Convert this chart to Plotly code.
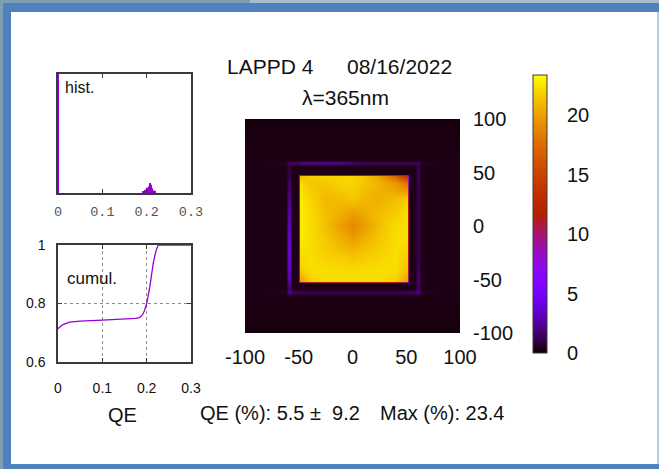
import plotly.graph_objects as go

W, H = 659, 469

# ---------------- data ----------------
# histogram of QE values (bin centre, count)
hist_qe = [0.0, 0.192, 0.195, 0.198, 0.201, 0.204, 0.207, 0.210, 0.213, 0.216, 0.219]
hist_count = [5000, 15, 25, 30, 45, 55, 85, 70, 40, 20, 10]

# cumulative distribution
cumul_qe = [0.0, 0.005, 0.01, 0.026, 0.05, 0.1, 0.15, 0.175, 0.184, 0.19, 0.195,
            0.2, 0.207, 0.215, 0.221, 0.226, 0.3]
cumul_frac = [0.714, 0.722, 0.727, 0.736, 0.740, 0.743, 0.746, 0.749, 0.752, 0.760, 0.775,
              0.800, 0.855, 0.940, 0.980, 1.000, 1.000]

# QE map (%), cell centres in mm
map_x = [-100, -80, -62, -59, -56, -50.5, -48.5, -40, -25, -10, 0, 10, 25, 40, 51, 53, 58, 61, 64, 80, 100]
map_y = [-100, -80, -65, -62, -59, -53.5, -51.5, -40, -25, -10, 0, 10, 25, 40, 47, 49, 56, 59, 62, 80, 100]
map_qe = [
    [0.2, 0.2, 0.2, 0.2, 0.2, 0.2, 0.2, 0.2, 0.2, 0.2, 0.2, 0.2, 0.2, 0.2, 0.2, 0.2, 0.2, 0.2, 0.2, 0.2, 0.2],
    [0.25, 0.25, 0.25, 0.25, 0.25, 0.25, 0.25, 0.25, 0.25, 0.25, 0.25, 0.25, 0.25, 0.25, 0.25, 0.25, 0.25, 0.25, 0.25, 0.25, 0.25],
    [0.3, 0.3, 0.3, 0.3, 0.3, 0.3, 0.3, 0.3, 0.3, 0.3, 0.3, 0.3, 0.3, 0.3, 0.3, 0.3, 0.3, 0.3, 0.3, 0.3, 0.3],
    [0.3, 0.3, 0.6, 2.3, 1.6, 1.3, 1.3, 1.2, 1.1, 1.1, 1.2, 1.1, 1.1, 1.2, 1.3, 1.5, 1.6, 2.3, 0.6, 0.3, 0.3],
    [0.3, 0.3, 0.3, 2.2, 0.3, 0.3, 0.3, 0.3, 0.3, 0.3, 0.3, 0.3, 0.3, 0.3, 0.3, 0.3, 0.3, 1.8, 0.3, 0.3, 0.3],
    [0.3, 0.3, 0.3, 2.5, 0.3, 0.3, 0.3, 0.3, 0.3, 0.3, 0.3, 0.3, 0.3, 0.3, 0.3, 0.3, 0.3, 1.5, 0.3, 0.3, 0.3],
    [0.3, 0.3, 0.3, 3.5, 0.3, 0.4, 20.0, 21.8, 22.3, 22.3, 22.3, 22.3, 22.3, 21.8, 20.0, 0.4, 0.3, 2.2, 0.3, 0.3, 0.3],
    [0.3, 0.3, 0.3, 4.5, 0.3, 0.4, 21.8, 22.3, 22.3, 22.2, 22.2, 22.2, 22.3, 22.3, 21.3, 0.4, 0.3, 1.5, 0.3, 0.3, 0.3],
    [0.3, 0.3, 0.3, 5.0, 0.3, 0.4, 22.3, 22.3, 21.8, 21.5, 21.2, 21.5, 21.8, 22.3, 21.8, 0.4, 0.3, 1.2, 0.3, 0.3, 0.3],
    [0.3, 0.3, 0.3, 4.5, 0.3, 0.4, 22.8, 22.3, 21.5, 20.5, 19.8, 20.5, 21.5, 22.3, 22.3, 0.4, 0.3, 1.2, 0.3, 0.3, 0.3],
    [0.3, 0.3, 0.3, 4.0, 0.3, 0.4, 22.8, 22.3, 21.2, 19.8, 19.0, 19.8, 21.2, 22.3, 22.3, 0.4, 0.3, 1.2, 0.3, 0.3, 0.3],
    [0.3, 0.3, 0.3, 3.5, 0.3, 0.4, 22.8, 22.3, 21.2, 20.5, 19.8, 20.3, 21.2, 21.8, 22.3, 0.4, 0.3, 1.2, 0.3, 0.3, 0.3],
    [0.3, 0.3, 0.3, 2.5, 0.3, 0.4, 22.8, 22.0, 21.0, 21.2, 21.5, 21.0, 20.7, 21.2, 21.8, 0.4, 0.3, 1.2, 0.3, 0.3, 0.3],
    [0.3, 0.3, 0.3, 1.8, 0.3, 0.4, 22.3, 21.5, 21.5, 22.0, 22.0, 21.5, 20.8, 19.6, 18.0, 0.4, 0.3, 1.2, 0.3, 0.3, 0.3],
    [0.3, 0.3, 0.3, 1.3, 0.3, 0.4, 21.2, 21.8, 22.0, 22.0, 22.0, 21.7, 20.2, 17.0, 13.5, 0.4, 0.3, 1.5, 0.3, 0.3, 0.3],
    [0.3, 0.3, 0.3, 1.2, 0.3, 0.3, 0.3, 0.3, 0.3, 0.3, 0.3, 0.3, 0.3, 0.3, 0.3, 0.3, 0.3, 1.5, 0.3, 0.3, 0.3],
    [0.3, 0.3, 0.3, 1.2, 0.3, 0.3, 0.3, 0.3, 0.3, 0.3, 0.3, 0.3, 0.3, 0.3, 0.3, 0.3, 0.3, 1.2, 0.3, 0.3, 0.3],
    [0.3, 0.3, 0.6, 1.8, 1.8, 1.8, 2.2, 2.4, 2.8, 2.4, 1.8, 1.5, 1.5, 1.5, 1.5, 1.5, 1.5, 1.8, 0.6, 0.3, 0.3],
    [0.3, 0.3, 0.3, 0.3, 0.3, 0.3, 0.3, 0.3, 0.3, 0.3, 0.3, 0.3, 0.3, 0.3, 0.3, 0.3, 0.3, 0.3, 0.3, 0.3, 0.3],
    [0.25, 0.25, 0.25, 0.25, 0.25, 0.25, 0.25, 0.25, 0.25, 0.25, 0.25, 0.25, 0.25, 0.25, 0.25, 0.25, 0.25, 0.25, 0.25, 0.25, 0.25],
    [0.2, 0.2, 0.2, 0.2, 0.2, 0.2, 0.2, 0.2, 0.2, 0.2, 0.2, 0.2, 0.2, 0.2, 0.2, 0.2, 0.2, 0.2, 0.2, 0.2, 0.2],
]

qe_ticks = [0, 0.1, 0.2, 0.3]
qe_ticktext = ["0", "0.1", "0.2", "0.3"]
cumul_ticks = [0.6, 0.8, 1.0]
cumul_ticktext = ["0.6", "0.8", "1"]
map_ticks = [-100, -50, 0, 50, 100]
map_ticktext = ["-100", "-50", "0", "50", "100"]
cb_ticks = [0, 5, 10, 15, 20]
qe_max = 23.4

title_left = "LAPPD 4"
title_right = "08/16/2022"
subtitle = "λ=365nm"
stats_left = "QE (%): 5.5 ±  9.2"
stats_right = "Max (%): 23.4"

# gnuplot "7,5,15" palette
gp_scale = [
    [0.0, "rgb(0,0,0)"], [0.01, "rgb(26,0,16)"], [0.025, "rgb(40,0,40)"], [0.05, "rgb(57,0,79)"],
    [0.1, "rgb(81,0,150)"], [0.15, "rgb(99,1,206)"], [0.2, "rgb(114,2,243)"],
    [0.25, "rgb(128,4,255)"], [0.3, "rgb(140,7,243)"], [0.35, "rgb(151,11,206)"],
    [0.4, "rgb(161,16,150)"], [0.45, "rgb(171,23,79)"], [0.5, "rgb(180,32,0)"],
    [0.55, "rgb(189,42,0)"], [0.6, "rgb(198,55,0)"], [0.65, "rgb(206,70,0)"],
    [0.7, "rgb(213,87,0)"], [0.75, "rgb(221,108,0)"], [0.8, "rgb(228,131,0)"],
    [0.85, "rgb(235,157,0)"], [0.9, "rgb(242,186,0)"], [0.95, "rgb(249,219,0)"],
    [1.0, "rgb(255,255,0)"],
]

PURPLE = "#9400d3"
AX = "#3a3a3a"
SANS = "Liberation Sans, Arial, sans-serif"
MONO = "Liberation Mono, Courier New, monospace"

CB_TOP, CB_BOT, CB_L, CB_R = 75, 353, 533, 547


def fx(p):
    return p / W


def fy(p):
    return 1 - p / H


fig = go.Figure()

fig.add_trace(go.Bar(x=hist_qe, y=hist_count, width=0.0016, marker=dict(color=PURPLE, line_width=0),
                     xaxis="x", yaxis="y"))
fig.add_trace(go.Scatter(x=cumul_qe, y=cumul_frac, mode="lines", line=dict(color=PURPLE, width=1.3),
                         xaxis="x2", yaxis="y2"))
fig.add_trace(go.Heatmap(
    x=map_x, y=map_y, z=map_qe, zmin=0, zmax=qe_max, zsmooth="best",
    colorscale=gp_scale, xaxis="x3", yaxis="y3",
    colorbar=dict(
        x=fx(CB_L), xanchor="left", y=fy(CB_BOT), yanchor="bottom",
        len=(CB_BOT - CB_TOP) / H, lenmode="fraction", thickness=CB_R - CB_L, thicknessmode="pixels",
        outlinewidth=1, outlinecolor=AX, xpad=0, ypad=0,
        tickvals=cb_ticks, ticks="outside", ticklen=16, tickcolor="rgba(0,0,0,0)",
        tickfont=dict(family=SANS, size=20, color="#111"),
    ),
))

common_box = dict(showline=True, linecolor=AX, linewidth=1.5, mirror="ticks", zeroline=False)

fig.update_layout(
    width=W, height=H, margin=dict(l=0, r=0, t=0, b=0, autoexpand=False),
    paper_bgcolor="#4f81bd", plot_bgcolor="white", showlegend=False,
    xaxis=dict(domain=[fx(58), fx(191)], range=[0, 0.3], anchor="y",
               tickvals=qe_ticks, ticktext=qe_ticktext, ticks="inside", ticklen=4, tickcolor=AX,
               tickfont=dict(family=MONO, size=13.5, color="#555"), ticklabelstandoff=5,
               showgrid=False, **common_box),
    yaxis=dict(domain=[fy(193), fy(74)], range=[0, 1000], anchor="x",
               showticklabels=False, ticks="", showgrid=False, **common_box),
    xaxis2=dict(domain=[fx(58), fx(191)], range=[0, 0.3], anchor="y2",
                tickvals=qe_ticks, ticktext=qe_ticktext, ticks="inside", ticklen=4, tickcolor=AX,
                tickfont=dict(family=SANS, size=14, color="#111"), ticklabelstandoff=12,
                showgrid=True, griddash="dot", gridcolor="#8a8a8a", gridwidth=1, **common_box),
    yaxis2=dict(domain=[fy(362), fy(245)], range=[0.6, 1.0], anchor="x2",
                tickvals=cumul_ticks, ticktext=cumul_ticktext, ticks="inside", ticklen=4, tickcolor=AX,
                tickfont=dict(family=SANS, size=14, color="#111"), ticklabelstandoff=8,
                showgrid=True, griddash="dot", gridcolor="#8a8a8a", gridwidth=1, **common_box),
    xaxis3=dict(domain=[fx(245), fx(460)], range=[-100, 100], anchor="y3",
                tickvals=map_ticks, ticktext=map_ticktext, ticks="", showline=False, showgrid=False,
                zeroline=False, tickfont=dict(family=SANS, size=20, color="#111"), ticklabelstandoff=10),
    yaxis3=dict(domain=[fy(333), fy(119)], range=[-100, 100], anchor="x3", side="right",
                tickvals=map_ticks, ticktext=map_ticktext, ticks="", showline=False, showgrid=False,
                zeroline=False, tickfont=dict(family=SANS, size=20, color="#111"), ticklabelstandoff=12),
)

# frame (slide border)
shapes = [
    dict(type="rect", xref="paper", yref="paper", x0=0, x1=1, y0=fy(3), y1=1,
         fillcolor="#a9bccb", line_width=0, layer="below"),
    dict(type="rect", xref="paper", yref="paper", x0=0, x1=fx(250), y0=fy(3), y1=1,
         fillcolor="#7f9db4", line_width=0, layer="below"),
    dict(type="rect", xref="paper", yref="paper", x0=0, x1=fx(3), y0=0, y1=1,
         fillcolor="#7f9db4", line_width=0, layer="below"),
    dict(type="rect", xref="paper", yref="paper", x0=fx(11), x1=fx(657), y0=fy(464), y1=fy(12),
         fillcolor="white", line_width=0, layer="below"),
    dict(type="rect", xref="paper", yref="paper", x0=fx(657), x1=1, y0=fy(464), y1=fy(12),
         fillcolor="#b8cce4", line_width=0, layer="below"),
]
# gnuplot-style dashed tic marks inside the colour box, placed from the tick values
for v in cb_ticks[1:]:
    yy = CB_BOT - v / qe_max * (CB_BOT - CB_TOP)
    shapes.append(dict(type="line", xref="paper", yref="paper", x0=fx(CB_L), x1=fx(CB_R),
                       y0=fy(yy), y1=fy(yy), line=dict(color="rgba(50,20,0,0.75)", width=1, dash="3px,2px"),
                       layer="above"))
fig.update_layout(shapes=shapes)

ann = []


def text(t, x, y, size, xanchor="left", family=SANS):
    ann.append(dict(text=t, x=fx(x), y=fy(y), xref="paper", yref="paper", showarrow=False,
                    xanchor=xanchor, yanchor="middle", font=dict(family=family, size=size, color="#111")))


text(title_left, 225, 67, 21)
text(title_right, 345, 67, 21)
text(subtitle, 345, 97, 21, xanchor="center")
text("hist.", 63, 87, 16)
text("cumul.", 65, 278, 17)
text("QE", 123, 415, 20, xanchor="center")
text(stats_left, 198, 413, 20)
text(stats_right, 378, 413, 20)
fig.update_layout(annotations=ann)

fig.write_html("out.html", config={"displayModeBar": False},
               post_script="document.body.style.margin='0';document.body.style.overflow='hidden';")
